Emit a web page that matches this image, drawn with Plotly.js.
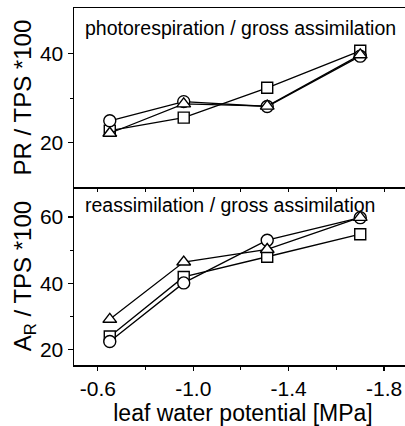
<!DOCTYPE html>
<html>
<head>
<meta charset="utf-8">
<script src="https://cdn.plot.ly/plotly-3.0.1.min.js"></script>
<style>html,body{margin:0;padding:0;background:#fff;overflow:hidden;width:405px;height:426px}</style>
</head>
<body>
<div id="chart" style="width:412px;height:426px"></div>
<script>
// leaf water potential [MPa]
const waterPotential = [-0.65, -0.96, -1.31, -1.70];

// photorespiration / gross assimilation (PR / TPS *100)
const prCircle   = [24.9, 29.2, 28.1, 39.4];
const prTriangle = [22.1, 28.7, 28.2, 39.7];
const prSquare   = [22.7, 25.6, 32.3, 40.6];

// reassimilation / gross assimilation (A_R / TPS *100)
const arCircle   = [22.4, 40.1, 53.0, 59.8];
const arTriangle = [29.1, 46.4, 50.2, 59.9];
const arSquare   = [23.9, 41.9, 48.0, 54.8];

const xTickVals = [-0.6, -1.0, -1.4, -1.8];
const xTickText = ['-0.6', '-1.0', '-1.4', '-1.8'];

const FONT = 'Arial, "Liberation Sans", sans-serif';

function series(y, symbol, size, xa, ya) {
  return {
    x: waterPotential, y: y, xaxis: xa, yaxis: ya,
    type: 'scatter', mode: 'lines+markers',
    line: {color: '#000', width: 1.3},
    marker: {symbol: symbol, size: size, color: '#fff', line: {color: '#000', width: 1.4}},
    showlegend: false, cliponaxis: false
  };
}

const data = [
  series(prSquare, 'square', 11, 'x2', 'y2'),
  series(prCircle, 'circle', 12, 'x2', 'y2'),
  series(prTriangle, 'triangle-up', 12, 'x2', 'y2'),
  series(arSquare, 'square', 11, 'x', 'y'),
  series(arCircle, 'circle', 12, 'x', 'y'),
  series(arTriangle, 'triangle-up', 12, 'x', 'y')
];

const xRange = [-0.5, -1.917];

const layout = {
  width: 412, height: 426,
  margin: {l: 74, r: 0, t: 7.5, b: 61},
  paper_bgcolor: '#fff', plot_bgcolor: 'rgba(0,0,0,0)',
  font: {family: FONT, color: '#000'},
  xaxis: {
    domain: [0, 1], range: xRange, anchor: 'y',
    tickvals: xTickVals, ticktext: xTickText,
    ticks: 'outside', ticklen: 4, tickwidth: 1.2, tickcolor: '#000',
    minor: {tickvals: [-0.8, -1.2, -1.6], ticks: 'outside', ticklen: 3, tickwidth: 1, tickcolor: '#000'},
    showline: true, linecolor: '#000', linewidth: 1.5, mirror: false,
    showgrid: false, zeroline: false,
    tickfont: {size: 21, family: FONT},
    title: {text: 'leaf water potential [MPa]', font: {size: 23, family: FONT}, standoff: 6}
  },
  yaxis: {
    domain: [0, 0.498], range: [15.3, 69], anchor: 'x',
    tickvals: [20, 40, 60], ticks: 'outside', ticklen: 5, tickwidth: 1.2, tickcolor: '#000',
    minor: {tickvals: [30, 50], ticks: 'outside', ticklen: 3, tickwidth: 1, tickcolor: '#000'},
    showline: true, linecolor: '#000', linewidth: 1.5, mirror: false,
    showgrid: false, zeroline: false,
    tickfont: {size: 21, family: FONT},
    title: {text: 'A<sub>R</sub> / TPS *100', font: {size: 24, family: FONT}, standoff: 1}
  },
  xaxis2: {
    domain: [0, 1], range: xRange, anchor: 'y2',
    tickvals: [-0.6, -0.8, -1.0, -1.2, -1.4, -1.6, -1.8], showticklabels: false,
    ticks: 'outside', ticklen: 3, tickwidth: 1, tickcolor: '#000',
    showline: true, linecolor: '#000', linewidth: 1.5, mirror: true,
    showgrid: false, zeroline: false
  },
  yaxis2: {
    domain: [0.498, 1], range: [10, 50.2], anchor: 'x2',
    tickvals: [20, 40], ticks: 'outside', ticklen: 5, tickwidth: 1.2, tickcolor: '#000',
    minor: {tickvals: [30], ticks: 'outside', ticklen: 3, tickwidth: 1, tickcolor: '#000'},
    showline: true, linecolor: '#000', linewidth: 1.5, mirror: false,
    showgrid: false, zeroline: false,
    tickfont: {size: 21, family: FONT},
    title: {text: 'PR / TPS *100', font: {size: 24, family: FONT}, standoff: 1}
  },
  annotations: [
    {text: 'photorespiration / gross assimilation', xref: 'paper', yref: 'paper',
     x: 9 / 338, y: 0.945, xanchor: 'left', yanchor: 'middle', showarrow: false,
     font: {size: 19.5, family: FONT, color: '#000'}},
    {text: 'reassimilation / gross assimilation', xref: 'paper', yref: 'paper',
     x: 9 / 338, y: 0.4476, xanchor: 'left', yanchor: 'middle', showarrow: false,
     font: {size: 19.5, family: FONT, color: '#000'}}
  ]
};

Plotly.newPlot('chart', data, layout, {staticPlot: true, displayModeBar: false});
</script>
</body>
</html>
